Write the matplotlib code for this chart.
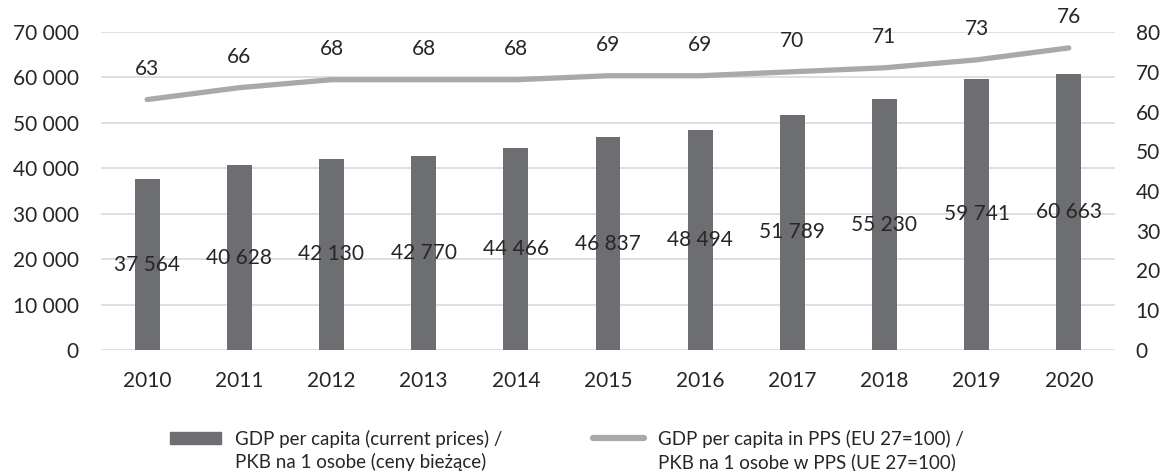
import matplotlib
matplotlib.use("Agg")
import matplotlib.pyplot as plt
from matplotlib.patches import Rectangle
from matplotlib.lines import Line2D
import numpy as np

plt.rcParams["font.family"] = ["Lato", "DejaVu Sans"]

years = ["2010", "2011", "2012", "2013", "2014", "2015", "2016", "2017", "2018", "2019", "2020"]
gdp_current = [37564, 40628, 42130, 42770, 44466, 46837, 48494, 51789, 55230, 59741, 60663]
gdp_pps = [63, 66, 68, 68, 68, 69, 69, 70, 71, 73, 76]

bar_label = ["GDP per capita (current prices) /", "PKB na 1 osobe (ceny bieżące)"]
line_label = ["GDP per capita in PPS (EU 27=100) /", "PKB na 1 osobe w PPS (UE 27=100)"]

BAR_COLOR = "#6d6e71"
LINE_COLOR = "#a7a9ac"
GRID_COLOR = "#d9d9d9"
TEXT_COLOR = "#262626"


def fmt_space(v):
    return f"{int(v):,}".replace(",", " ")


fig = plt.figure(figsize=(11.64, 4.71), dpi=100)
ax = fig.add_axes([0.0868, 0.257, 0.871, 0.675])
ax2 = ax.twinx()

x = np.arange(len(years))
ax.bar(x, gdp_current, width=0.27, color=BAR_COLOR, zorder=2)
ax2.plot(x, gdp_pps, color=LINE_COLOR, linewidth=3.8, solid_capstyle="round")

ax.set_xlim(-0.5, len(years) - 0.5)
ax.set_ylim(0, 70000)
ax2.set_ylim(0, 80)
ax.set_yticks(np.arange(0, 70001, 10000))
ax2.set_yticks(np.arange(0, 81, 10))
ax.yaxis.set_major_formatter(matplotlib.ticker.FuncFormatter(lambda v, p: fmt_space(v)))

ax.grid(axis="y", color=GRID_COLOR, linewidth=1.2, zorder=0)
ax.set_axisbelow(True)
for a in (ax, ax2):
    for s in a.spines.values():
        s.set_visible(False)
    a.tick_params(length=0, labelsize=15, colors=TEXT_COLOR)
ax.tick_params(axis="y", pad=16)
ax2.tick_params(axis="y", pad=15)
ax.tick_params(axis="x", pad=15)
ax.set_xticks(x)
ax.set_xticklabels(years)

for xi, v in zip(x, gdp_current):
    ax.text(xi, v / 2, fmt_space(v), ha="center", va="center", fontsize=15,
            color=TEXT_COLOR, zorder=3)
for xi, v in zip(x, gdp_pps):
    ax2.annotate(str(v), (xi, v), xytext=(0, 22), textcoords="offset points",
                 ha="center", va="center", fontsize=15, color=TEXT_COLOR)

# legend: one legend per series so the handle sits next to the first line
blank = Rectangle((0, 0), 1, 1, alpha=0)
bar_handle = Rectangle((0, 0), 1, 1, color=BAR_COLOR)
line_handle = Line2D([0], [0], color=LINE_COLOR, linewidth=4.5, solid_capstyle="round")
leg_kw = dict(loc="upper left", frameon=False, fontsize=13.5, handlelength=2.7,
              handleheight=0.6, handletextpad=0.75, borderaxespad=0, borderpad=0,
              labelspacing=0.3, labelcolor=TEXT_COLOR)
fig.legend([bar_handle, blank], bar_label, bbox_to_anchor=(170 / 1164, 0.088), **leg_kw)
fig.legend([line_handle, blank], line_label, bbox_to_anchor=(593 / 1164, 0.088), **leg_kw)

fig.savefig("out.png", dpi=100)
